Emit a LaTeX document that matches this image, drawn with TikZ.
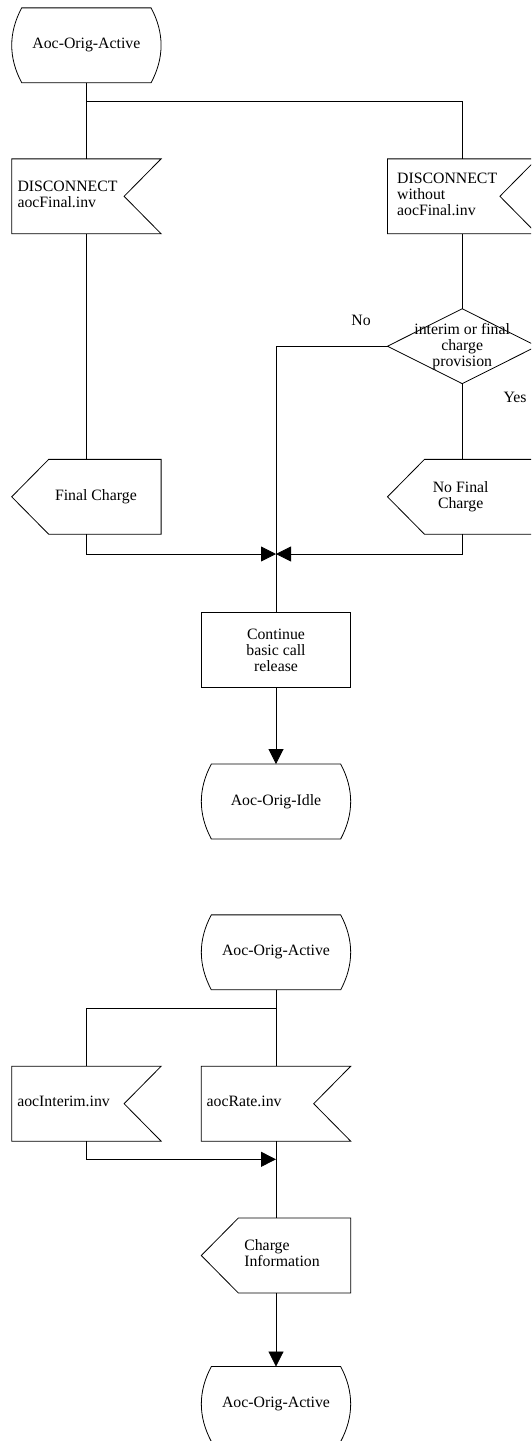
\documentclass[tikz,border=0pt]{standalone}
\usepackage{fontspec}
\setmainfont{Liberation Serif}
\usetikzlibrary{arrows.meta}
\newcommand{\sdlfont}{\fontsize{15.8pt}{16pt}\selectfont}
\newcommand{\ltext}[2]{\makebox[149pt][l]{\hspace*{#1}\begin{tabular}{@{}l@{}}#2\end{tabular}}}
\newcommand{\ctext}[2]{\makebox[149pt][l]{\hspace*{#1}\makebox[0pt]{\begin{tabular}{@{}c@{}}#2\end{tabular}}}}
\newcommand{\sdlState}[1]{\draw[outl] ([xshift=10pt]#1.north west) -- ([xshift=-10pt]#1.north east) .. controls ([xshift=3.3pt,yshift=-25pt]#1.north east) and ([xshift=3.3pt,yshift=25pt]#1.south east) .. ([xshift=-10pt]#1.south east) -- ([xshift=10pt]#1.south west) .. controls ([xshift=-3.3pt,yshift=25pt]#1.south west) and ([xshift=-3.3pt,yshift=-25pt]#1.north west) .. cycle;}
\newcommand{\sdlIn}[1]{\draw[outl] (#1.north west) -- (#1.north east) -- ([xshift=-37pt]#1.east) -- (#1.south east) -- (#1.south west) -- cycle;}
\newcommand{\sdlOut}[1]{\draw[outl] (#1.west) -- ([xshift=37pt]#1.north west) -- (#1.north east) -- (#1.south east) -- ([xshift=37pt]#1.south west) -- cycle;}
\newcommand{\sdlDec}[1]{\draw[outl] (#1.north) -- (#1.east) -- (#1.south) -- (#1.west) -- cycle;}
\tikzset{
  outl/.style={line width=0.8pt, line join=miter},
  conn/.style={line width=0.8pt},
  arr/.style={conn, -{Triangle[length=15pt,width=15pt]}},
  sdlbox/.style={inner sep=0pt, minimum width=149pt, minimum height=74.5pt, font=\sdlfont},
  ctrbox/.style={sdlbox, align=center},
  taskbox/.style={ctrbox, draw, line width=0.8pt},
  lbl/.style={font=\sdlfont, inner sep=0pt},
}
\begin{document}
\begin{tikzpicture}[x=1pt,y=-1pt]
\useasboundingbox (0,0) rectangle (531,1441);
\clip (0,0) rectangle (531,1441);
\fill[white] (0,0) rectangle (531,1441);
% upper diagram
\node[ctrbox] (s1) at (86.4,45.3) {Aoc-Orig-Active};
\sdlState{s1}
\node[sdlbox] (in1) at (86.4,196.3) {\ltext{5.6pt}{DISCONNECT\\aocFinal.inv}};
\sdlIn{in1}
\node[sdlbox] (in2) at (462.2,196.3) {\ltext{9.4pt}{DISCONNECT\\without\\aocFinal.inv}};
\sdlIn{in2}
\node[ctrbox] (dec) at (462.2,346.2) {interim or final\\charge\\provision};
\sdlDec{dec}
\node[sdlbox] (out1) at (86.4,496.8) {\ctext{84pt}{Final Charge}};
\sdlOut{out1}
\node[sdlbox] (out2) at (462.2,496.8) {\ctext{73pt}{No Final\\Charge}};
\sdlOut{out2}
\node[taskbox] (task) at (276,650) {Continue\\basic call\\release};
\node[ctrbox] (s2) at (276,801.5) {Aoc-Orig-Idle};
\sdlState{s2}
\node[lbl] (no) at (361,320) {No};
\node[lbl] (yes) at (515,397) {Yes};
\coordinate (b1) at (86.4,101);
\coordinate (m1) at (276,554);
\draw[conn] (s1.south) -- (in1.north);
\draw[conn] (b1) -| (in2.north);
\draw[conn] (in2.south) -- (dec.north);
\draw[conn] (dec.west) -| (task.north);
\draw[conn] (in1.south) -- (out1.north);
\draw[arr] (out1.south) |- (m1);
\draw[conn] (dec.south) -- (out2.north);
\draw[arr] (out2.south) |- (m1);
\draw[arr] (task.south) -- (s2.north);
% lower diagram
\node[ctrbox] (s3) at (276,952.3) {Aoc-Orig-Active};
\sdlState{s3}
\node[sdlbox] (in3) at (86.4,1103.7) {\ltext{5.4pt}{aocInterim.inv}};
\sdlIn{in3}
\node[sdlbox] (in4) at (276,1103.7) {\ltext{5.1pt}{aocRate.inv}};
\sdlIn{in4}
\node[sdlbox] (out3) at (276,1255.5) {\ltext{42.8pt}{Charge\\Information}};
\sdlOut{out3}
\node[ctrbox] (s4) at (276,1404) {Aoc-Orig-Active};
\sdlState{s4}
\coordinate (b2) at (276,1008);
\coordinate (m2) at (276,1159.3);
\draw[conn] (s3.south) -- (in4.north);
\draw[conn] (b2) -| (in3.north);
\draw[arr] (in3.south) |- (m2);
\draw[conn] (in4.south) -- (out3.north);
\draw[arr] (out3.south) -- (s4.north);
\end{tikzpicture}
\end{document}
